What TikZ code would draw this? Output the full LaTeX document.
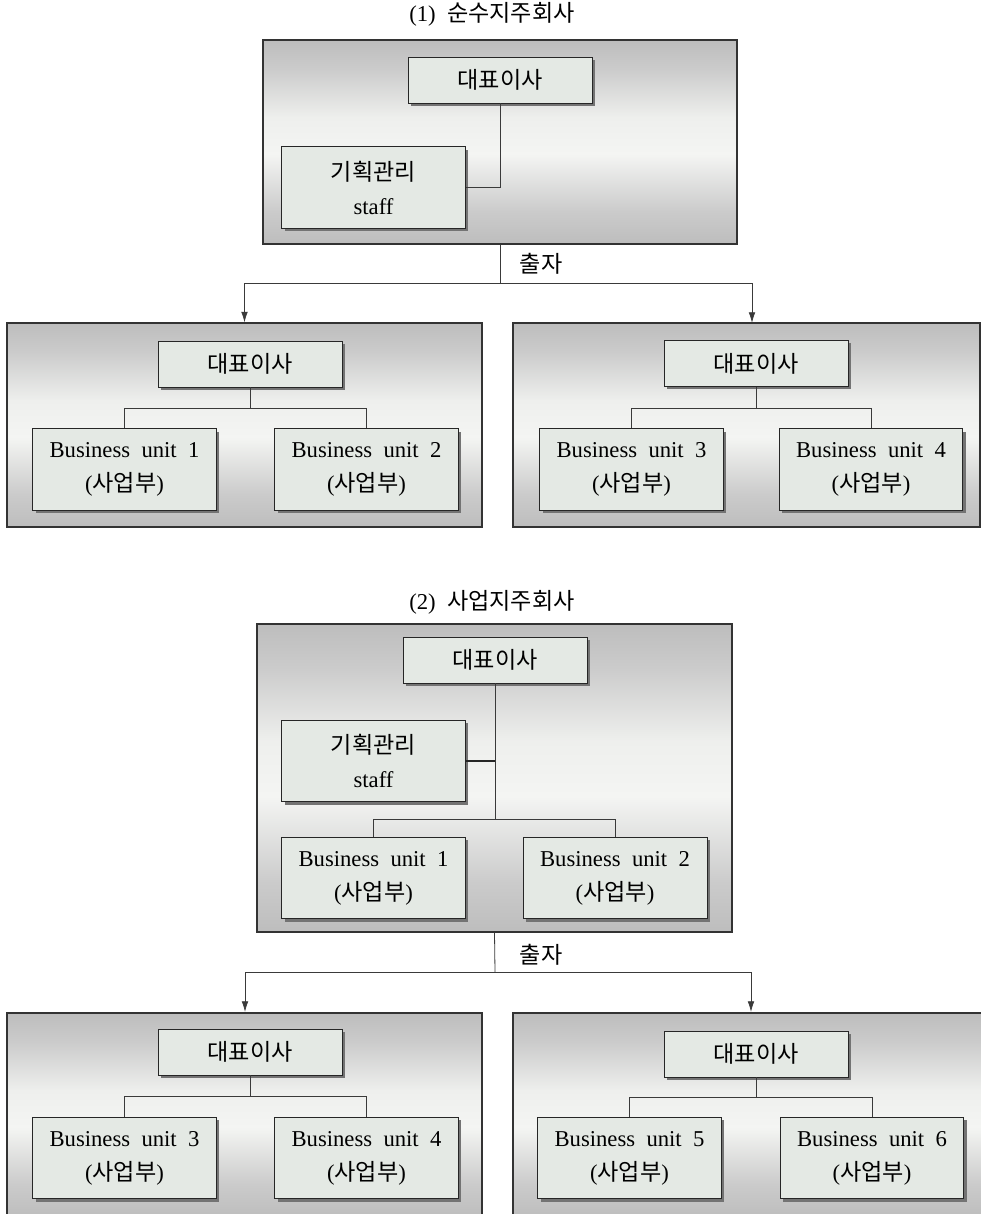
\documentclass[tikz,border=0pt]{standalone}
\usepackage{fontspec}
\setmainfont{Liberation Serif}
\newfontfamily\kr{Noto Sans CJK KR}[Scale=1.02]
\usetikzlibrary{shadows,arrows.meta}
\definecolor{pgray}{HTML}{BDBDBD}
\definecolor{pgray2}{HTML}{CBCBCB}
\definecolor{plight}{HTML}{F4F5F3}
\definecolor{plight2}{HTML}{EEEFED}
\definecolor{bfill}{HTML}{E4E9E4}
\definecolor{lcol}{HTML}{3A3A3A}
\pgfdeclareverticalshading{panelshade}{100bp}{color(0bp)=(pgray); color(25bp)=(pgray);
  color(33bp)=(pgray2); color(47bp)=(plight); color(56bp)=(plight2); color(68bp)=(pgray2);
  color(75bp)=(pgray); color(100bp)=(pgray)}
\newcommand\bunit[1]{Business\hspace{.5em}unit\hspace{.5em}#1\\({\kr 사업부})}
\begin{document}
\begin{tikzpicture}[x=0.75pt,y=-0.75pt,
  font=\fontsize{17pt}{25.5pt}\selectfont,
  panel/.style={draw=black!80, line width=0.8pt, shading=panelshade, inner sep=0pt,
    minimum height=153pt},
  ubox/.style={draw=black!85, line width=0.7pt, fill=bfill, align=center, inner sep=0pt,
    drop shadow={shadow xshift=2.2pt, shadow yshift=-2.2pt, fill=black!55, opacity=1}},
  small/.style={ubox, minimum width=138pt, minimum height=34.5pt},
  big/.style={ubox, minimum width=137.5pt, minimum height=61pt},
  conn/.style={draw=lcol, line width=0.6pt},
  arr/.style={conn, -{Latex[length=8pt,width=5pt]}},
  lbl/.style={inner sep=0pt}]
\clip (0,0) rectangle (981,1214);

% ---------- (1) ----------
\node[lbl] (t1) at (492,14) {(1)\ \ {\kr 순수지주회사}};
\node[panel, minimum width=355.5pt] (p1) at (500,142) {};
\node[small] (ceo1) at (500,80) {\kr 대표이사};
\node[big] (staff1) at (373.5,187.5) {{\kr 기획관리}\\staff};
\draw[conn] (ceo1.south) |- (staff1.east);

\node[lbl] (cj1) at (541,264) {\kr 출자};
\coordinate (s1) at (500,283);
\node[panel, minimum width=356.25pt] (p1L) at (244.5,425) {};
\node[panel, minimum width=350.25pt] (p1R) at (746.5,425) {};
\coordinate (t1R) at (752,323);
\draw[conn] (p1.south) -- (s1);
\draw[arr] (s1) -| (p1L.north);
\draw[arr] (s1) -| (t1R);

\node[small] (ceoL1) at (250,364) {\kr 대표이사};
\node[big] (bu1) at (124.5,469.5) {\bunit{1}};
\node[big] (bu2) at (366.5,469.5) {\bunit{2}};
\coordinate (jL1) at (250,408);
\draw[conn] (ceoL1.south) -- (jL1);
\draw[conn] (jL1) -| (bu1.north);
\draw[conn] (jL1) -| (bu2.north);

\node[small] (ceoR1) at (756,363.5) {\kr 대표이사};
\node[big] (bu3) at (631.5,469.5) {\bunit{3}};
\node[big] (bu4) at (871,469.5) {\bunit{4}};
\coordinate (jR1) at (756,408);
\draw[conn] (ceoR1.south) -- (jR1);
\draw[conn] (jR1) -| (bu3.north);
\draw[conn] (jR1) -| (bu4.north);

% ---------- (2) ----------
\node[lbl] (t2) at (492,602) {(2)\ \ {\kr 사업지주회사}};
\node[panel, minimum width=356.25pt, minimum height=231pt] (p2) at (494.5,778) {};
\node[small] (ceo2) at (495,660) {\kr 대표이사};
\node[big] (staff2) at (373.5,761) {{\kr 기획관리}\\staff};
\node[big] (bu21) at (373.5,878) {\bunit{1}};
\node[big, minimum width=138pt] (bu22) at (615,878) {\bunit{2}};
\coordinate (j2) at (495,819);
\coordinate (k2) at (495,761);
\draw[conn] (ceo2.south) -- (j2);
\draw[draw=black!85, line width=1.2pt] (staff2.east) -- (k2);
\draw[conn] (j2) -| (bu21.north);
\draw[conn] (j2) -| (bu22.north);

\node[lbl] (cj2) at (541,955) {\kr 출자};
\coordinate (s2) at (495,972);
\node[panel, minimum width=356.25pt] (p2L) at (244.5,1115) {};
\node[panel, minimum width=360pt] (p2R) at (753,1115) {};
\coordinate (t2L) at (245,1012);
\coordinate (t2R) at (751,1012);
\draw[conn] (p2.south) -- (s2);
\draw[arr] (s2) -| (t2L);
\draw[arr] (s2) -| (t2R);

\node[small] (ceoL2) at (250,1052) {\kr 대표이사};
\node[big] (bu23) at (124.5,1158) {\bunit{3}};
\node[big] (bu24) at (366.5,1158) {\bunit{4}};
\coordinate (jL2) at (250,1096);
\draw[conn] (ceoL2.south) -- (jL2);
\draw[conn] (jL2) -| (bu23.north);
\draw[conn] (jL2) -| (bu24.north);

\node[small] (ceoR2) at (756,1054) {\kr 대표이사};
\node[big] (bu25) at (629.5,1158) {\bunit{5}};
\node[big] (bu26) at (872,1158) {\bunit{6}};
\coordinate (jR2) at (756,1097);
\draw[conn] (ceoR2.south) -- (jR2);
\draw[conn] (jR2) -| (bu25.north);
\draw[conn] (jR2) -| (bu26.north);
\end{tikzpicture}
\end{document}
